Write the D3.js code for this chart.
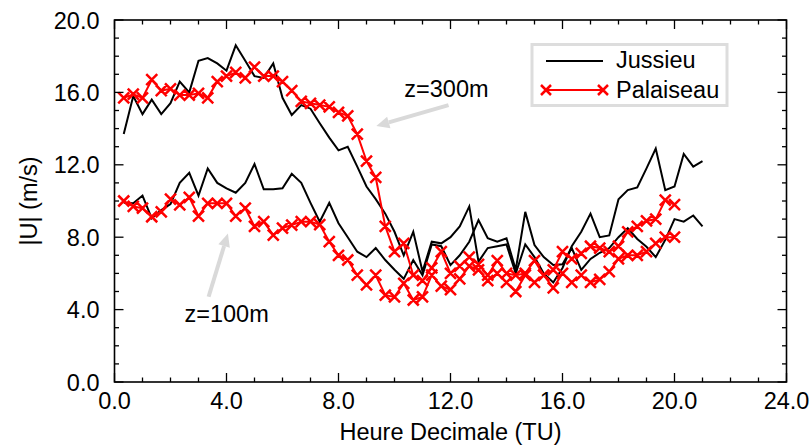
<!DOCTYPE html>
<html><head><meta charset="utf-8">
<script src="https://cdn.jsdelivr.net/npm/d3@7"></script>
<style>body{margin:0;background:#fff}svg{display:block}text{font-family:"Liberation Sans",Arial,sans-serif;fill:#000}</style>
</head><body><svg id="c" width="811" height="446"></svg>
<script>
const hoursJ = [0.33,0.67,1.0,1.33,1.67,2.0,2.33,2.67,3.0,3.33,3.67,4.0,4.33,4.67,5.0,5.33,5.67,6.0,6.33,6.67,7.0,7.33,7.67,8.0,8.33,8.67,9.0,9.33,9.67,10.0,10.33,10.67,11.0,11.33,11.67,12.0,12.33,12.67,13.0,13.33,13.67,14.0,14.33,14.67,15.0,15.33,15.67,16.0,16.33,16.67,17.0,17.33,17.67,18.0,18.33,18.67,19.0,19.33,19.67,20.0,20.33,20.67,21.0];
const hoursP = [0.33,0.67,1.0,1.33,1.67,2.0,2.33,2.67,3.0,3.33,3.67,4.0,4.33,4.67,5.0,5.33,5.67,6.0,6.33,6.67,7.0,7.33,7.67,8.0,8.33,8.67,9.0,9.33,9.67,10.0,10.33,10.67,11.0,11.33,11.67,12.0,12.33,12.67,13.0,13.33,13.67,14.0,14.33,14.67,15.0,15.33,15.67,16.0,16.33,16.67,17.0,17.33,17.67,18.0,18.33,18.67,19.0,19.33,19.67,20.0];
const jussieu300 = [13.7,15.8,14.8,15.6,14.8,15.4,16.6,16.0,17.75,17.9,17.6,17.2,18.6,17.75,16.9,16.8,17.6,15.7,14.75,15.3,15.1,14.3,13.5,12.8,13.0,11.9,10.8,10.1,9.3,8.3,7.0,8.3,6.1,7.75,7.66,8.0,8.6,9.7,6.65,7.4,7.5,7.6,6.0,7.6,6.9,6.0,5.5,6.3,7.5,8.3,9.3,8.0,8.1,10.1,10.6,10.75,11.8,12.9,10.6,10.8,12.6,11.9,12.2];
const jussieu100 = [9.9,9.87,10.3,9.04,9.5,9.83,11.0,11.56,10.3,11.8,11.0,10.7,10.46,11.0,12.04,10.65,10.65,10.7,11.5,11.0,9.9,8.86,9.9,8.77,8.0,7.2,6.9,7.4,6.74,6.2,5.7,6.74,5.9,7.6,7.5,6.46,7.0,7.75,8.95,7.94,7.75,7.94,6.2,9.4,7.57,6.9,6.46,6.5,7.4,6.2,6.8,7.14,7.4,8.0,8.5,7.9,7.47,6.9,7.85,9.0,8.86,9.2,8.6];
const palaiseau300 = [15.7,15.9,15.7,16.7,16.1,16.2,15.85,15.85,15.95,15.7,16.6,16.9,17.1,16.8,17.4,16.9,16.9,16.6,16.1,15.5,15.4,15.3,15.2,14.9,14.7,13.7,12.2,11.3,8.6,7.2,7.66,5.9,5.6,6.3,7.2,6.0,6.4,6.9,6.5,5.9,6.7,6.0,5.9,6.0,6.7,5.9,6.2,7.2,6.8,7.1,7.5,7.4,7.2,7.5,8.3,8.6,8.9,9.0,10.05,9.8];
const palaiseau100 = [10.0,9.7,9.6,9.13,9.4,10.1,9.78,10.2,9.17,9.87,9.87,9.87,9.17,9.6,8.6,8.86,8.12,8.5,8.67,8.86,8.86,8.7,7.75,7.0,6.74,5.9,5.36,5.9,4.8,4.7,5.45,4.53,4.7,5.9,5.3,5.1,5.7,6.4,6.2,5.6,6.0,5.5,5.0,5.9,5.5,5.9,5.2,6.0,5.5,5.9,5.5,5.67,6.1,6.8,7.0,7.0,7.2,7.66,8.0,8.0];
const xTicks = [0,4,8,12,16,20,24];
const yTicks = [0,4,8,12,16,20];
const legendLabels = ["Jussieu","Palaiseau"];
const annotations = [
  {text:"z=300m", tx:10.35, ty:15.75, from:[11.93,15.3], to:[9.35,14.14]},
  {text:"z=100m", tx:2.5, ty:3.3, from:[3.36,4.71], to:[4.05,8.2]}
];

const svg = d3.select("#c");
const L=114.5, R=786.5, T=20, B=382;
const x = d3.scaleLinear().domain([0,24]).range([L,R]);
const y = d3.scaleLinear().domain([0,20]).range([B,T]);
const FS = "23.5px";

// annotations arrows (behind data)
const grey = "#d9d9d9";
annotations.forEach(a=>{
  const x1=x(a.from[0]), y1=y(a.from[1]), x2=x(a.to[0]), y2=y(a.to[1]);
  const ang=Math.atan2(y2-y1,x2-x1), hl=13, hw=6;
  const bx=x2-hl*Math.cos(ang), by=y2-hl*Math.sin(ang);
  svg.append("line").attr("x1",x1).attr("y1",y1).attr("x2",bx).attr("y2",by)
    .attr("stroke",grey).attr("stroke-width",4);
  svg.append("path").attr("d",`M${x2},${y2}L${bx-hw*Math.sin(ang)},${by+hw*Math.cos(ang)}L${bx+hw*Math.sin(ang)},${by-hw*Math.cos(ang)}Z`)
    .attr("fill",grey);
  svg.append("text").attr("x",x(a.tx)).attr("y",y(a.ty)).style("font-size",FS).text(a.text);
});

// lines
const line = (hrs)=>d3.line().x((d,i)=>x(hrs[i])).y(d=>y(d));
[jussieu300,jussieu100].forEach(s=>{
  svg.append("path").attr("d",line(hoursJ)(s)).attr("fill","none").attr("stroke","#000").attr("stroke-width",2).attr("stroke-linejoin","miter");
});
const xm=(cx,cy,r)=>`M${cx-r},${cy-r}L${cx+r},${cy+r}M${cx-r},${cy+r}L${cx+r},${cy-r}`;
[palaiseau300,palaiseau100].forEach(s=>{
  svg.append("path").attr("d",line(hoursP)(s)).attr("fill","none").attr("stroke","#ff0000").attr("stroke-width",2);
  svg.append("path").attr("d",s.map((v,i)=>xm(x(hoursP[i]),y(v),5.5)).join(""))
    .attr("stroke","#ff0000").attr("stroke-width",2.5).attr("fill","none");
});

// axes frame with inward ticks
const ax = svg.append("g");
const xMinor = d3.range(0,25,1), yMinor = d3.range(0,21,1);
const tk=(x1,y1,x2,y2)=>ax.append("line").attr("x1",x1).attr("y1",y1).attr("x2",x2).attr("y2",y2).attr("stroke","#000").attr("stroke-width",1.3);
xMinor.forEach(v=>{const len = v%4===0?9:4.5; tk(x(v),B,x(v),B-len); tk(x(v),T,x(v),T+len);});
yMinor.forEach(v=>{const len = v%4===0?9:4.5; tk(L,y(v),L+len,y(v)); tk(R,y(v),R-len,y(v));});
ax.append("rect").attr("x",L).attr("y",T).attr("width",R-L).attr("height",B-T).attr("fill","none").attr("stroke","#000").attr("stroke-width",1.6);

// tick labels
svg.selectAll(".xl").data(xTicks).enter().append("text").attr("x",d=>x(d)).attr("y",B+27)
  .attr("text-anchor","middle").style("font-size",FS).text(d=>d.toFixed(1));
svg.selectAll(".yl").data(yTicks).enter().append("text").attr("x",L-15).attr("y",d=>y(d)+8.5)
  .attr("text-anchor","end").style("font-size",FS).text(d=>d.toFixed(1));
svg.append("text").attr("x",(L+R)/2).attr("y",440).attr("text-anchor","middle").style("font-size",FS).text("Heure Decimale (TU)");
svg.append("text").attr("transform",`translate(37,${(T+B)/2}) rotate(-90)`).attr("text-anchor","middle").style("font-size",FS).text("|U| (m/s)");

// legend
const lg = svg.append("g");
lg.append("rect").attr("x",532).attr("y",44.5).attr("width",195).attr("height",61).attr("fill","#fff").attr("stroke","#dddddd").attr("stroke-width",3);
lg.append("line").attr("x1",546).attr("x2",603).attr("y1",61).attr("y2",61).attr("stroke","#000").attr("stroke-width",2);
lg.append("line").attr("x1",546).attr("x2",603).attr("y1",90).attr("y2",90).attr("stroke","#ff0000").attr("stroke-width",2);
lg.append("path").attr("d",xm(546,90,5)+xm(603,90,5)).attr("stroke","#ff0000").attr("stroke-width",2.5);
lg.selectAll("text").data(legendLabels).enter().append("text").attr("x",616).attr("y",(d,i)=>68+i*29.5).style("font-size",FS).text(d=>d);
</script></body></html>
